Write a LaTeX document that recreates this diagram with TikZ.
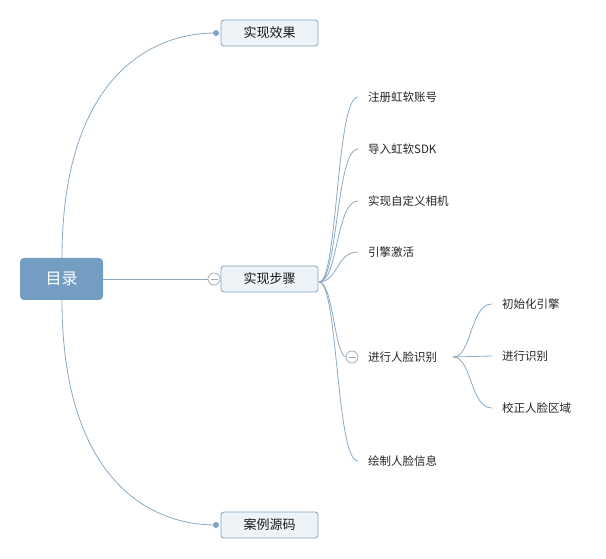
\documentclass[tikz,border=0pt]{standalone}
\usepackage{fontspec}
\setmainfont{Noto Sans CJK SC}
\begin{document}
\begin{tikzpicture}[x=1pt,y=-1pt,
  link/.style={draw=linec,line width=0.8pt},
  rootbox/.style={draw=none,fill=rootc,rounded corners=4pt,minimum width=83pt,minimum height=42pt,text=white,font=\fontsize{16}{16}\selectfont,inner sep=0pt},
  topicbox/.style={draw=boxline,fill=boxfill,rounded corners=3pt,minimum width=97pt,minimum height=26pt,font=\fontsize{13}{13}\selectfont,text=black!90,inner sep=0pt,line width=0.8pt},
  leaf/.style={anchor=west,font=\fontsize{11.5}{11.5}\selectfont,text=black!85,inner sep=0pt},
  dotc/.style={fill=dotcol,draw=none,circle,minimum size=6pt,inner sep=0pt},
  fold/.style={draw=gray!70,fill=white,circle,minimum size=12pt,inner sep=0pt,line width=0.7pt,
     path picture={\draw[gray!70,line width=0.7pt] ([xshift=-3.5pt]path picture bounding box.center) -- ([xshift=3.5pt]path picture bounding box.center);}}
]
\definecolor{linec}{HTML}{8AAAC6}
\definecolor{rootc}{HTML}{739EC1}
\definecolor{boxline}{HTML}{7FA4C6}
\definecolor{boxfill}{HTML}{EEF3F8}
\definecolor{dotcol}{HTML}{7DA3C6}
\useasboundingbox[fill=white] (0,0) rectangle (606,559);

\node[rootbox] (root) at (61.5,279) {目录};
\node[topicbox] (t1) at (269.5,33) {实现效果};
\node[topicbox] (t2) at (269.5,279) {实现步骤};
\node[topicbox] (t3) at (269.5,525) {案例源码};
\node[dotc] (d1) at (216,33) {};
\node[dotc] (d3) at (216,525) {};
\node[fold] (f2) at (214,279) {};

\coordinate (rt) at (62,258);
\coordinate (rb) at (62,300);
\draw[link] (rt) .. controls (62,90) and (140,33) .. (d1.center);
\draw[link] (rb) .. controls (62,468) and (140,525) .. (d3.center);
\draw[link] (root.east) -- (f2.west);

\node[leaf] (s1) at (368,97) {注册虹软账号};
\node[leaf] (s2) at (368,149) {导入虹软SDK};
\node[leaf] (s3) at (368,201) {实现自定义相机};
\node[leaf] (s4) at (368,252) {引擎激活};
\node[leaf] (s5) at (368,357) {进行人脸识别};
\node[leaf] (s6) at (368,461) {绘制人脸信息};
\node[fold] (f5) at (352,357) {};

\coordinate (o2) at (319,282);
\coordinate (e1) at (358,97);
\coordinate (e2) at (358,149);
\coordinate (e3) at (358,201);
\coordinate (e4) at (358,252);
\coordinate (e6) at (358,461);
\draw[link] (o2) .. controls (338,282) and (336,97) .. (e1);
\draw[link] (o2) .. controls (338,282) and (336,149) .. (e2);
\draw[link] (o2) .. controls (338,282) and (336,201) .. (e3);
\draw[link] (o2) .. controls (338,282) and (336,252) .. (e4);
\draw[link] (o2) .. controls (333,282) and (334,352) .. (f5.west);
\draw[link] (o2) .. controls (338,282) and (336,461) .. (e6);

\node[leaf] (c1) at (502,304) {初始化引擎};
\node[leaf] (c2) at (502,356) {进行识别};
\node[leaf] (c3) at (502,408) {校正人脸区域};
\coordinate (o5) at (453,357);
\coordinate (g1) at (492,304);
\coordinate (g2) at (492,356);
\coordinate (g3) at (492,408);
\draw[link] (o5) .. controls (472,357) and (470,304) .. (g1);
\draw[link] (o5) -- (g2);
\draw[link] (o5) .. controls (472,357) and (470,408) .. (g3);
\end{tikzpicture}
\end{document}
